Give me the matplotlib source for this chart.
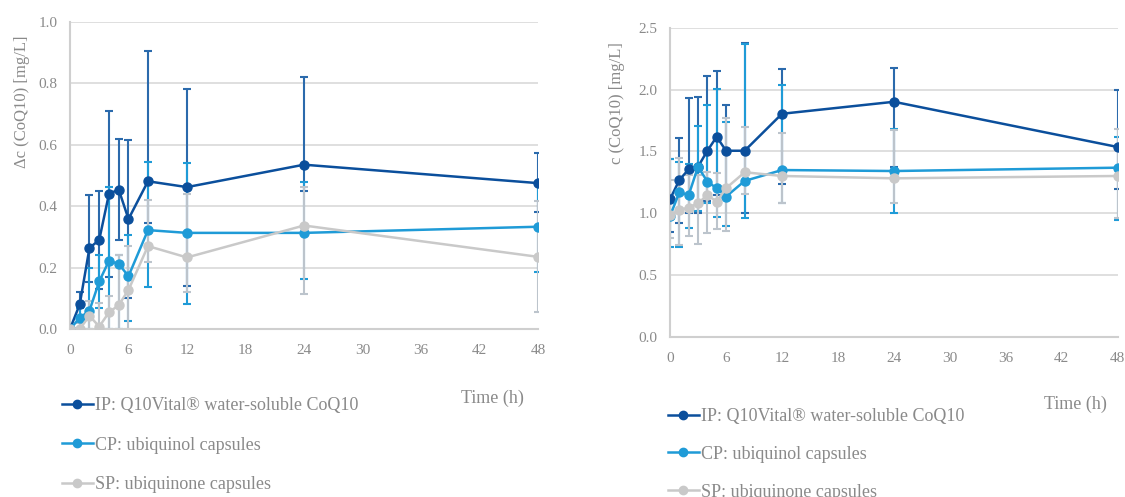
import numpy as np
import matplotlib
matplotlib.use('Agg')
import matplotlib.pyplot as plt
from matplotlib.lines import Line2D

plt.rcParams['font.family'] = ['Liberation Serif', 'DejaVu Serif']

# Sampling times (h)
times = [0, 1, 2, 3, 4, 5, 6, 8, 12, 24, 48]

# Left panel: change in CoQ10 concentration (mean, upper and lower ends of bars)
ip_delta = [0, 0.08, 0.264, 0.29, 0.44, 0.454, 0.358, 0.481, 0.462, 0.535, 0.475]
ip_delta_hi = [0, 0.12, 0.436, 0.45, 0.71, 0.62, 0.616, 0.906, 0.783, 0.821, 0.573]
ip_delta_lo = [0, 0.04, 0.152, 0.13, 0.17, 0.29, 0.10, 0.345, 0.14, 0.45, 0.38]

cp_delta = [0, 0.036, 0.06, 0.155, 0.222, 0.212, 0.172, 0.322, 0.313, 0.313, 0.333]
cp_delta_hi = [0, 0.07, 0.198, 0.242, 0.462, 0.24, 0.307, 0.545, 0.54, 0.48, 0.48]
cp_delta_lo = [0, 0, 0, 0.07, 0, 0, 0.025, 0.136, 0.08, 0.164, 0.185]

sp_delta = [0, 0.0, 0.043, 0.008, 0.054, 0.078, 0.127, 0.27, 0.233, 0.337, 0.235]
sp_delta_hi = [0, 0.02, 0.09, 0.085, 0.107, 0.24, 0.27, 0.42, 0.44, 0.463, 0.418]
sp_delta_lo = [0, 0, 0, 0, 0, 0, 0, 0.218, 0.12, 0.114, 0.055]

# Right panel: absolute CoQ10 concentration
ip_conc = [1.114, 1.27, 1.356, 1.377, 1.506, 1.619, 1.506, 1.506, 1.805, 1.902, 1.536]
ip_conc_hi = [1.437, 1.61, 1.93, 1.94, 2.11, 2.15, 1.875, 2.378, 2.166, 2.176, 1.996]
ip_conc_lo = [0.852, 0.925, 1.0, 1.0, 1.1, 1.15, 1.15, 1.0, 1.235, 1.377, 1.197]

cp_conc = [0.979, 1.17, 1.148, 1.377, 1.256, 1.203, 1.135, 1.262, 1.35, 1.342, 1.369]
cp_conc_hi = [1.44, 1.418, 1.40, 1.705, 1.875, 2.007, 1.735, 2.37, 2.04, 1.684, 1.62]
cp_conc_lo = [0.731, 0.731, 0.885, 1.02, 1.08, 0.974, 0.898, 0.96, 1.08, 1.0, 0.947]

sp_conc = [0.985, 1.027, 1.046, 1.081, 1.148, 1.094, 1.203, 1.332, 1.302, 1.283, 1.302]
sp_conc_hi = [1.27, 1.45, 1.31, 1.31, 1.337, 1.33, 1.768, 1.70, 1.652, 1.673, 1.68]
sp_conc_lo = [0.804, 0.745, 0.818, 0.75, 0.84, 0.872, 0.86, 1.154, 1.08, 1.086, 0.96]

labels = ['IP: Q10Vital® water-soluble CoQ10', 'CP: ubiquinol capsules', 'SP: ubiquinone capsules']
colors = ['#0b4f9c', '#1f9bd7', '#c9c9c9']
err_colors = ['#2b6aac', '#1f9bd7', '#bcc4cc']
text_grey = '#8a8a8a'


def draw_panel(ax, series, ymax, ystep, ylabel, label_xy):
    # error bars first, lines and markers on top
    for (mean, hi, lo), ec in zip(series, err_colors):
        m = np.array(mean)
        yerr = [m - np.array(lo), np.array(hi) - m]
        ax.errorbar(times, m, yerr=yerr, fmt='none', ecolor=ec, elinewidth=1.5,
                    capsize=3, capthick=1.5, zorder=2)
    for (mean, hi, lo), c in zip(series, colors):
        ax.plot(times, mean, color=c, lw=1.8, marker='o', ms=6.5, zorder=3)

    ax.set_xlim(0, 48)
    ax.set_ylim(0, ymax)
    ax.set_xticks(range(0, 49, 6))
    ax.set_yticks(np.arange(0, ymax + 1e-9, ystep))
    ax.yaxis.set_major_formatter(matplotlib.ticker.FormatStrFormatter('%.1f'))
    ax.grid(axis='y', color='#d9d9d9', lw=1.2)
    ax.set_axisbelow(True)
    for s in ['top', 'right']:
        ax.spines[s].set_visible(False)
    for s in ['left', 'bottom']:
        ax.spines[s].set_color('#cfcfcf')
        ax.spines[s].set_linewidth(1.5)
    ax.tick_params(length=0, labelsize=11, labelcolor=text_grey)
    ax.tick_params(axis='x', pad=11)
    ax.tick_params(axis='y', pad=9)
    ax.set_ylabel(ylabel, fontsize=12, color=text_grey)
    ax.yaxis.set_label_coords(*label_xy)
    for lab in ax.get_xticklabels() + ax.get_yticklabels():
        lab.set_clip_on(False)


fig = plt.figure(figsize=(11.25, 4.97), dpi=100)

ax1 = fig.add_axes([0.0622, 0.338, 0.416, 0.618])
draw_panel(ax1,
           [(ip_delta, ip_delta_hi, ip_delta_lo),
            (cp_delta, cp_delta_hi, cp_delta_lo),
            (sp_delta, sp_delta_hi, sp_delta_lo)],
           1.0, 0.2, 'Δc (CoQ10) [mg/L]', (-0.085, 0.74))

ax2 = fig.add_axes([0.5956, 0.322, 0.398, 0.622])
draw_panel(ax2,
           [(ip_conc, ip_conc_hi, ip_conc_lo),
            (cp_conc, cp_conc_hi, cp_conc_lo),
            (sp_conc, sp_conc_hi, sp_conc_lo)],
           2.5, 0.5, 'c (CoQ10) [mg/L]', (-0.1, 0.757))

fig.text(492 / 1125, 1 - 398 / 497, 'Time (h)', fontsize=13, color=text_grey,
         ha='center', va='center')
fig.text(1075 / 1125, 1 - 404 / 497, 'Time (h)', fontsize=13, color=text_grey,
         ha='center', va='center')

handles = [Line2D([], [], color=c, lw=1.8, marker='o', ms=6) for c in colors]
for x0, y0, spacing in [(62 / 1125, 1 - 397 / 497, 1.25), (668 / 1125, 1 - 408 / 497, 1.15)]:
    fig.legend(handles, labels, loc='upper left', bbox_to_anchor=(x0, y0),
               frameon=False, fontsize=13, labelcolor=text_grey, handlelength=1.7,
               handletextpad=0.15, labelspacing=spacing, borderaxespad=0, borderpad=0)

fig.savefig('out.png', dpi=100)
